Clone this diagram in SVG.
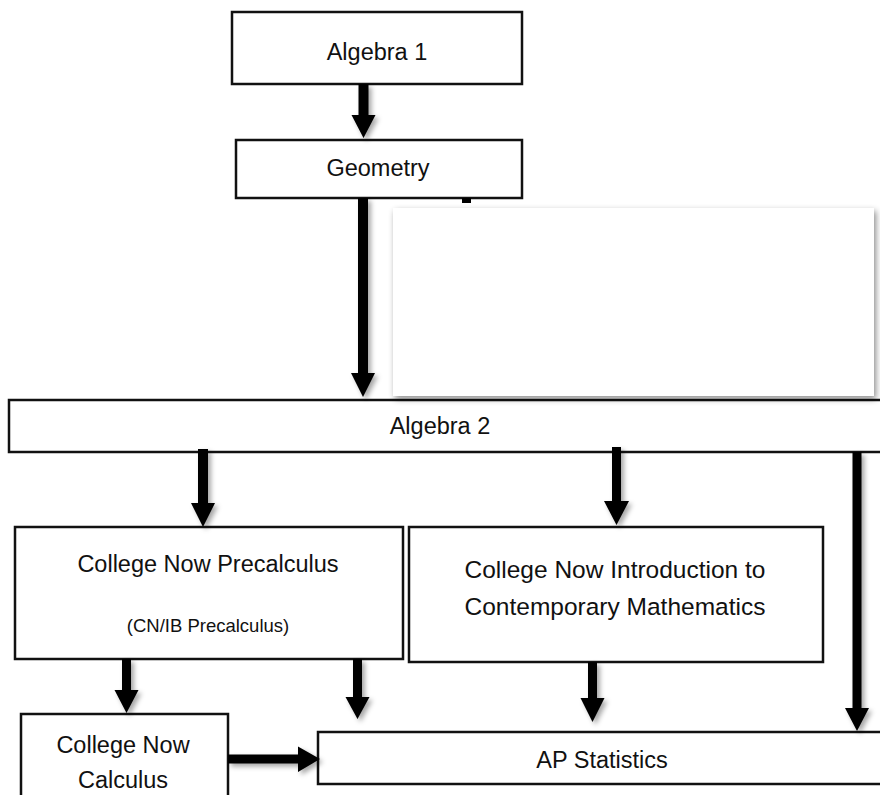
<svg xmlns="http://www.w3.org/2000/svg" width="880" height="795" viewBox="0 0 880 795">
<defs>
<filter id="sh" x="-50%" y="-50%" width="200%" height="200%">
<feDropShadow dx="3" dy="3" stdDeviation="2.5" flood-color="#000" flood-opacity="0.35"/>
</filter>
<filter id="sh2" x="-10%" y="-10%" width="120%" height="125%">
<feDropShadow dx="2" dy="3" stdDeviation="3" flood-color="#000" flood-opacity="0.45"/>
</filter>
</defs>
<style>
.box{fill:#fff;stroke:#111;stroke-width:2.5}
.t{font-family:"Liberation Sans",Arial,sans-serif;font-size:23.5px;fill:#111;text-anchor:middle}
.s{font-size:18.5px}
.arr{fill:#000;filter:url(#sh)}
</style>
<rect width="880" height="795" fill="#fff"/>
<g id="algebra1"><rect class="box" x="232" y="12" width="290" height="72"/><text class="t" x="377" y="60">Algebra 1</text></g>
<g id="geometry"><rect class="box" x="236" y="140" width="286" height="58"/><text class="t" x="378" y="176">Geometry</text></g>
<g id="algebra2"><rect class="box" x="9" y="400" width="880" height="52"/><text class="t" x="440" y="434">Algebra 2</text></g>
<g id="cnprecalc"><rect class="box" x="15" y="527" width="388" height="132"/><text class="t" x="208" y="572">College Now Precalculus</text><text class="t s" x="208" y="632">(CN/IB Precalculus)</text></g>
<g id="cnintro"><rect class="box" x="409" y="527" width="414" height="135"/><text class="t" x="615" y="578" style="font-size:24.5px">College Now Introduction to</text><text class="t" x="615" y="615" style="font-size:24.5px">Contemporary Mathematics</text></g>
<g id="cncalc"><rect class="box" x="21" y="714" width="207" height="90"/><text class="t" x="123" y="753">College Now</text><text class="t" x="123" y="788">Calculus</text></g>
<g id="apstats"><rect class="box" x="318" y="732" width="570" height="52"/><text class="t" x="602" y="768">AP Statistics</text></g>
<g id="connectors">
<path class="arr" d="M358.5 84H368.5V115H375.5L363.5 138L351.5 115H358.5Z"/>
<path class="arr" d="M358 198H368V373H375L363 397L351 373H358Z"/>
<path d="M462 198H471V203H462Z" fill="#000"/>
<path class="arr" d="M198 449H208V503H215L203 527L191 503H198Z"/>
<path class="arr" d="M612 447H621V501H629L616.5 525L604 501H612Z"/>
<path class="arr" d="M852.5 452H861.5V708H869L857 731L845 708H852.5Z"/>
<path class="arr" d="M122 659H131V690H138.5L126.5 713L114.5 690H122Z"/>
<path class="arr" d="M353 659H362V697H369.5L357.5 719L345.5 697H353Z"/>
<path class="arr" d="M588 662H597V698H604.5L592.5 722L580.5 698H588Z"/>
<path class="arr" d="M228 754.5V763.5H298V772L320 759L298 746.5V754.5Z"/>
</g>
<g id="blank-panel"><rect x="393" y="208" width="481" height="188" fill="#fff" filter="url(#sh2)"/></g>
</svg>
